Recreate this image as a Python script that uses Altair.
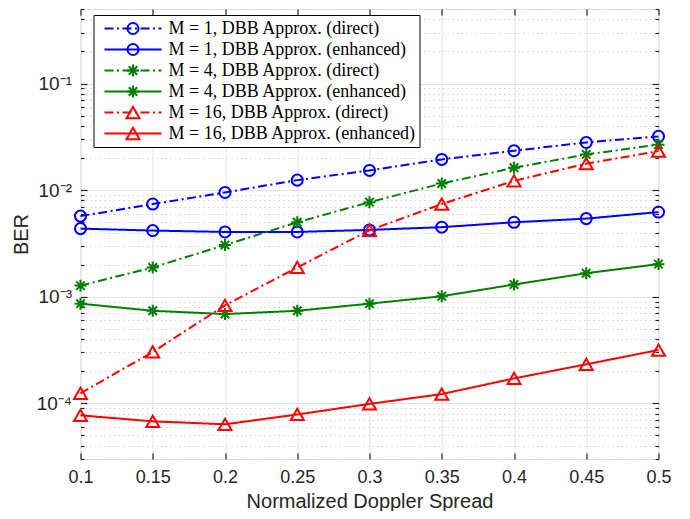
import altair as alt
import pandas as pd

# ---------------- data ----------------
x_vals = [0.1, 0.15, 0.2, 0.25, 0.3, 0.35, 0.4, 0.45, 0.5]

series_names = [
    "M = 1, DBB Approx. (direct)",
    "M = 1, DBB Approx. (enhanced)",
    "M = 4, DBB Approx. (direct)",
    "M = 4, DBB Approx. (enhanced)",
    "M = 16, DBB Approx. (direct)",
    "M = 16, DBB Approx. (enhanced)",
]

m1_direct = [5.7e-3, 7.4e-3, 9.5e-3, 1.24e-2, 1.53e-2, 1.94e-2, 2.34e-2, 2.8e-2, 3.19e-2]
m1_enhanced = [4.35e-3, 4.17e-3, 4.05e-3, 4.05e-3, 4.23e-3, 4.49e-3, 4.99e-3, 5.4e-3, 6.22e-3]
m4_direct = [1.27e-3, 1.88e-3, 3.05e-3, 4.99e-3, 7.7e-3, 1.153e-2, 1.62e-2, 2.16e-2, 2.67e-2]
m4_enhanced = [8.6e-4, 7.37e-4, 6.87e-4, 7.37e-4, 8.6e-4, 1.01e-3, 1.30e-3, 1.66e-3, 2.02e-3]
m16_direct = [1.24e-4, 3.03e-4, 8.3e-4, 1.88e-3, 4.2e-3, 7.4e-3, 1.22e-2, 1.77e-2, 2.32e-2]
m16_enhanced = [7.7e-5, 6.77e-5, 6.35e-5, 7.85e-5, 9.86e-5, 1.22e-4, 1.71e-4, 2.32e-4, 3.16e-4]

series_values = [m1_direct, m1_enhanced, m4_direct, m4_enhanced, m16_direct, m16_enhanced]

x_title = "Normalized Doppler Spread"
y_title = "BER"
y_major = [1e-4, 1e-3, 1e-2, 1e-1]
y_major_labels = ["10\u207b\u2074", "10\u207b\u00b3", "10\u207b\u00b2", "10\u207b\u00b9"]
y_minor = [k * 10.0 ** e for e in range(-5, 0) for k in range(2, 10)
           if 3e-5 * 0.999 <= k * 10.0 ** e <= 0.5 * 1.001]

# ---------------- styles ----------------
colors = ["#0000FF", "#0000FF", "#008000", "#008000", "#FF0000", "#FF0000"]
dashdot = [9, 3.5, 2, 3.5]
solid = [1, 0]
dashes = [dashdot, solid, dashdot, solid, dashdot, solid]
circle = "M0.85,0A0.85,0.85,0,1,1,-0.85,0A0.85,0.85,0,1,1,0.85,0Z"
star = "M0,-0.92V0.92M-0.92,0H0.92M-0.65,-0.65L0.65,0.65M-0.65,0.65L0.65,-0.65"
tri = "triangle-up"
shapes = [circle, circle, star, star, tri, tri]

rows = []
for name, vals in zip(series_names, series_values):
    for xv, yv in zip(x_vals, vals):
        rows.append({"x": xv, "ber": yv, "series": name})
df = pd.DataFrame(rows)

TXT = "#262626"
SANS = "Liberation Sans"
SERIF = "Liberation Serif"

xscale = alt.Scale(domain=[0.1, 0.5], nice=False, zero=False)
yscale = alt.Scale(type="log", domain=[3e-5, 0.5], nice=False)

label_expr = ""
for v, lab in zip(y_major[:-1], y_major_labels[:-1]):
    label_expr += f"datum.value < {v * 3} ? '{lab}' : "
label_expr += f"'{y_major_labels[-1]}'"

common_tick = dict(tickColor=TXT, tickWidth=1.2, domain=False)

x_bottom = alt.Axis(orient="bottom", values=x_vals, format=".2~f", offset=-6, tickSize=6,
                    grid=True, gridColor="#e2e2e2", gridWidth=1, labelFlush=False,
                    labelFont=SANS, labelFontSize=18, labelColor=TXT, labelPadding=9,
                    title=x_title, titleFont=SANS, titleFontSize=20, titleFontWeight="normal",
                    titleColor=TXT, titlePadding=5, **common_tick)
x_top = alt.Axis(orient="top", values=x_vals, offset=-6, tickSize=6, grid=False,
                 labels=False, title=None, **common_tick)
y_left = alt.Axis(orient="left", values=y_major, labelExpr=label_expr, offset=-6.5, tickSize=6.5,
                  grid=True, gridColor="#e2e2e2", gridWidth=1, labelFlush=False,
                  labelFont=SANS, labelFontSize=19, labelColor=TXT, labelPadding=9,
                  title=y_title, titleFont=SANS, titleFontSize=20, titleFontWeight="normal",
                  titleColor=TXT, titlePadding=5, **common_tick)
y_right = alt.Axis(orient="right", values=y_major, offset=-6.5, tickSize=6.5, grid=False,
                   labels=False, title=None, **common_tick)
y_left_minor = alt.Axis(orient="left", values=y_minor, offset=-3.5, tickSize=3.5,
                        grid=True, gridColor="#d0d0d0", gridDash=[1.5, 3.2], gridWidth=1,
                        labels=False, title=None, **common_tick)
y_right_minor = alt.Axis(orient="right", values=y_minor, offset=-3.5, tickSize=3.5, grid=False,
                         labels=False, title=None, **common_tick)

LEG_X = 13
LEG_Y = 6
line_legend = alt.Legend(title=None, orient="none", legendX=LEG_X, legendY=LEG_Y,
                         symbolType="stroke", symbolSize=57 ** 2, symbolStrokeWidth=2,
                         clipHeight=21,
                         labelFont=SERIF, labelFontSize=18, labelColor="black", labelLimit=500,
                         labelOffset=6, padding=3, rowPadding=0, symbolOffset=7,
                         strokeColor="black", fillColor="white", zindex=1)
marker_legend = alt.Legend(title=None, orient="none", legendX=LEG_X + 20.5, legendY=LEG_Y,
                           symbolSize=169, symbolStrokeWidth=2, clipHeight=21,
                           labelFont=SERIF, labelFontSize=18, labelExpr="''", labelLimit=500,
                           labelOffset=6, padding=3, rowPadding=0, symbolOffset=7, zindex=2)

base = alt.Chart(df)

lines = base.mark_line(strokeWidth=2, clip=False).encode(
    x=alt.X("x:Q", scale=xscale, axis=x_bottom),
    y=alt.Y("ber:Q", scale=yscale, axis=y_left),
    color=alt.Color("series:N", scale=alt.Scale(domain=series_names, range=colors), legend=line_legend),
    strokeDash=alt.StrokeDash("series:N", scale=alt.Scale(domain=series_names, range=dashes), legend=line_legend),
)

points = base.mark_point(filled=False, size=169, strokeWidth=2, opacity=1, clip=False).encode(
    x=alt.X("x:Q", scale=xscale, axis=x_top),
    y=alt.Y("ber:Q", scale=yscale, axis=y_right),
    color=alt.Color("series:N", scale=alt.Scale(domain=series_names, range=colors), legend=marker_legend),
    shape=alt.Shape("series:N", scale=alt.Scale(domain=series_names, range=shapes), legend=marker_legend),
)

minor_left = base.mark_line(opacity=0).encode(
    x=alt.X("x:Q", scale=xscale, axis=None),
    y=alt.Y("ber:Q", scale=yscale, axis=y_left_minor),
)
minor_right = base.mark_line(opacity=0).encode(
    x=alt.X("x:Q", scale=xscale, axis=None),
    y=alt.Y("ber:Q", scale=yscale, axis=y_right_minor),
)

chart = alt.layer(minor_left, minor_right, lines, points).resolve_scale(
    color="independent", strokeDash="independent", shape="independent"
).resolve_axis(
    x="independent", y="independent"
).properties(
    width=578, height=450,
    autosize=alt.AutoSizeParams(type="none"),
    padding={"left": 72.5, "top": 1, "right": 15, "bottom": 52},
).configure_view(
    stroke=TXT, strokeWidth=2
).configure(
    background="white"
)

chart.save("out.html", embed_options={"renderer": "svg", "actions": False})
